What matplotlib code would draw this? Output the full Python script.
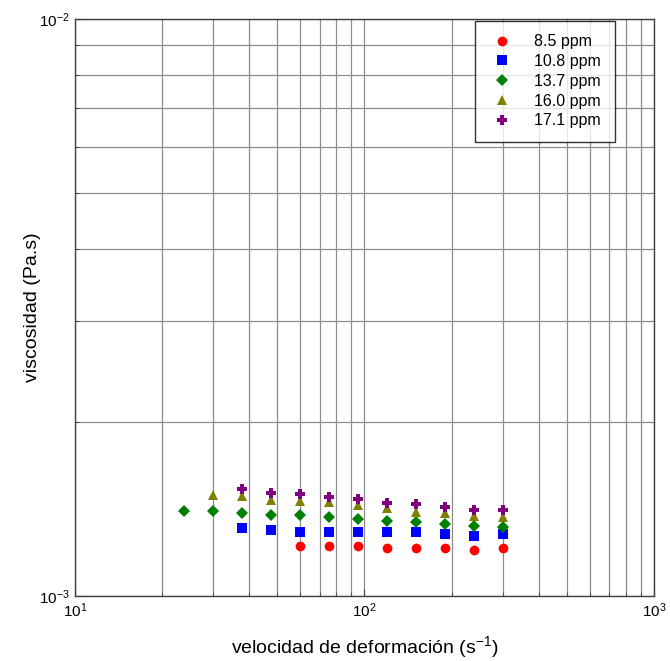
import matplotlib
matplotlib.use("Agg")
import matplotlib.pyplot as plt
from matplotlib.ticker import LogLocator, NullFormatter

plt.rcParams['font.family'] = ['Liberation Sans', 'DejaVu Sans']
plt.rcParams['mathtext.default'] = 'regular'
plt.rcParams['axes.unicode_minus'] = False

# shear rate (1/s)
rate = [23.8, 30.0, 37.7, 47.5, 59.8, 75.3, 94.8, 119.4, 150.3, 189.3, 238.3, 300.0]

# viscosity (Pa.s) per concentration
visc_85 = [None, None, None, None, 1.222e-3, 1.222e-3, 1.222e-3, 1.212e-3, 1.212e-3, 1.212e-3, 1.203e-3, 1.212e-3]
visc_108 = [None, None, 1.310e-3, 1.300e-3, 1.291e-3, 1.291e-3, 1.291e-3, 1.291e-3, 1.291e-3, 1.281e-3, 1.271e-3, 1.281e-3]
visc_137 = [1.402e-3, 1.402e-3, 1.393e-3, 1.380e-3, 1.380e-3, 1.369e-3, 1.358e-3, 1.349e-3, 1.342e-3, 1.331e-3, 1.321e-3, 1.318e-3]
visc_160 = [None, 1.498e-3, 1.489e-3, 1.469e-3, 1.459e-3, 1.453e-3, 1.440e-3, 1.420e-3, 1.400e-3, 1.391e-3, 1.378e-3, 1.371e-3]
visc_171 = [None, None, 1.532e-3, 1.508e-3, 1.502e-3, 1.483e-3, 1.471e-3, 1.451e-3, 1.442e-3, 1.427e-3, 1.409e-3, 1.409e-3]

labels = ['8.5 ppm', '10.8 ppm', '13.7 ppm', '16.0 ppm', '17.1 ppm']
series = [visc_85, visc_108, visc_137, visc_160, visc_171]
colors = ['#ff0000', '#0000ff', '#008000', '#808000', '#800080']
markers = ['o', 's', 'D', '^', 'P']
msizes = [7, 6.5, 6, 7.5, 7.5]

fig = plt.figure(figsize=(6.7, 6.61), dpi=100)
ax = fig.add_axes([0.1119, 0.0983, 0.8642, 0.873])

for vals, lab, c, m, ms in zip(series, labels, colors, markers, msizes):
    xs = [r for r, v in zip(rate, vals) if v is not None]
    ys = [v for v in vals if v is not None]
    ax.plot(xs, ys, linestyle='none', marker=m, color=c, markersize=ms,
            markeredgewidth=0, label=lab, zorder=3)

ax.set_xscale('log')
ax.set_yscale('log')
ax.set_xlim(10, 1000)
ax.set_ylim(1e-3, 1e-2)

ax.xaxis.set_major_locator(LogLocator(base=10, numticks=10))
ax.yaxis.set_major_locator(LogLocator(base=10, numticks=10))
ax.xaxis.set_minor_locator(LogLocator(base=10, subs=range(2, 10), numticks=20))
ax.yaxis.set_minor_locator(LogLocator(base=10, subs=range(2, 10), numticks=20))
ax.xaxis.set_minor_formatter(NullFormatter())
ax.yaxis.set_minor_formatter(NullFormatter())

ax.grid(True, which='both', color='#8c8c8c', linewidth=0.9)
ax.set_axisbelow(True)
ax.tick_params(which='both', direction='in', labelsize=11, color='#404040')
ax.tick_params(which='major', length=5, pad=4)
ax.tick_params(which='minor', length=3)
for s in ax.spines.values():
    s.set_color('#404040')
    s.set_linewidth(1.0)

ax.set_xlabel('velocidad de deformación (s$^{-1}$)', fontsize=14, va='center')
ax.xaxis.set_label_coords(0.5, -0.089)
ax.set_ylabel('viscosidad (Pa.s)', fontsize=14, va='center')
ax.yaxis.set_label_coords(-0.074, 0.5)

leg = ax.legend(loc='upper right', bbox_to_anchor=(0.935, 1.0), fontsize=11.5,
                frameon=True, fancybox=False, edgecolor='black',
                borderpad=0.85, labelspacing=0.3, handletextpad=1.1,
                handlelength=1.8, borderaxespad=0.1)
leg.get_frame().set_linewidth(1.0)

fig.savefig('out.png', dpi=100)
